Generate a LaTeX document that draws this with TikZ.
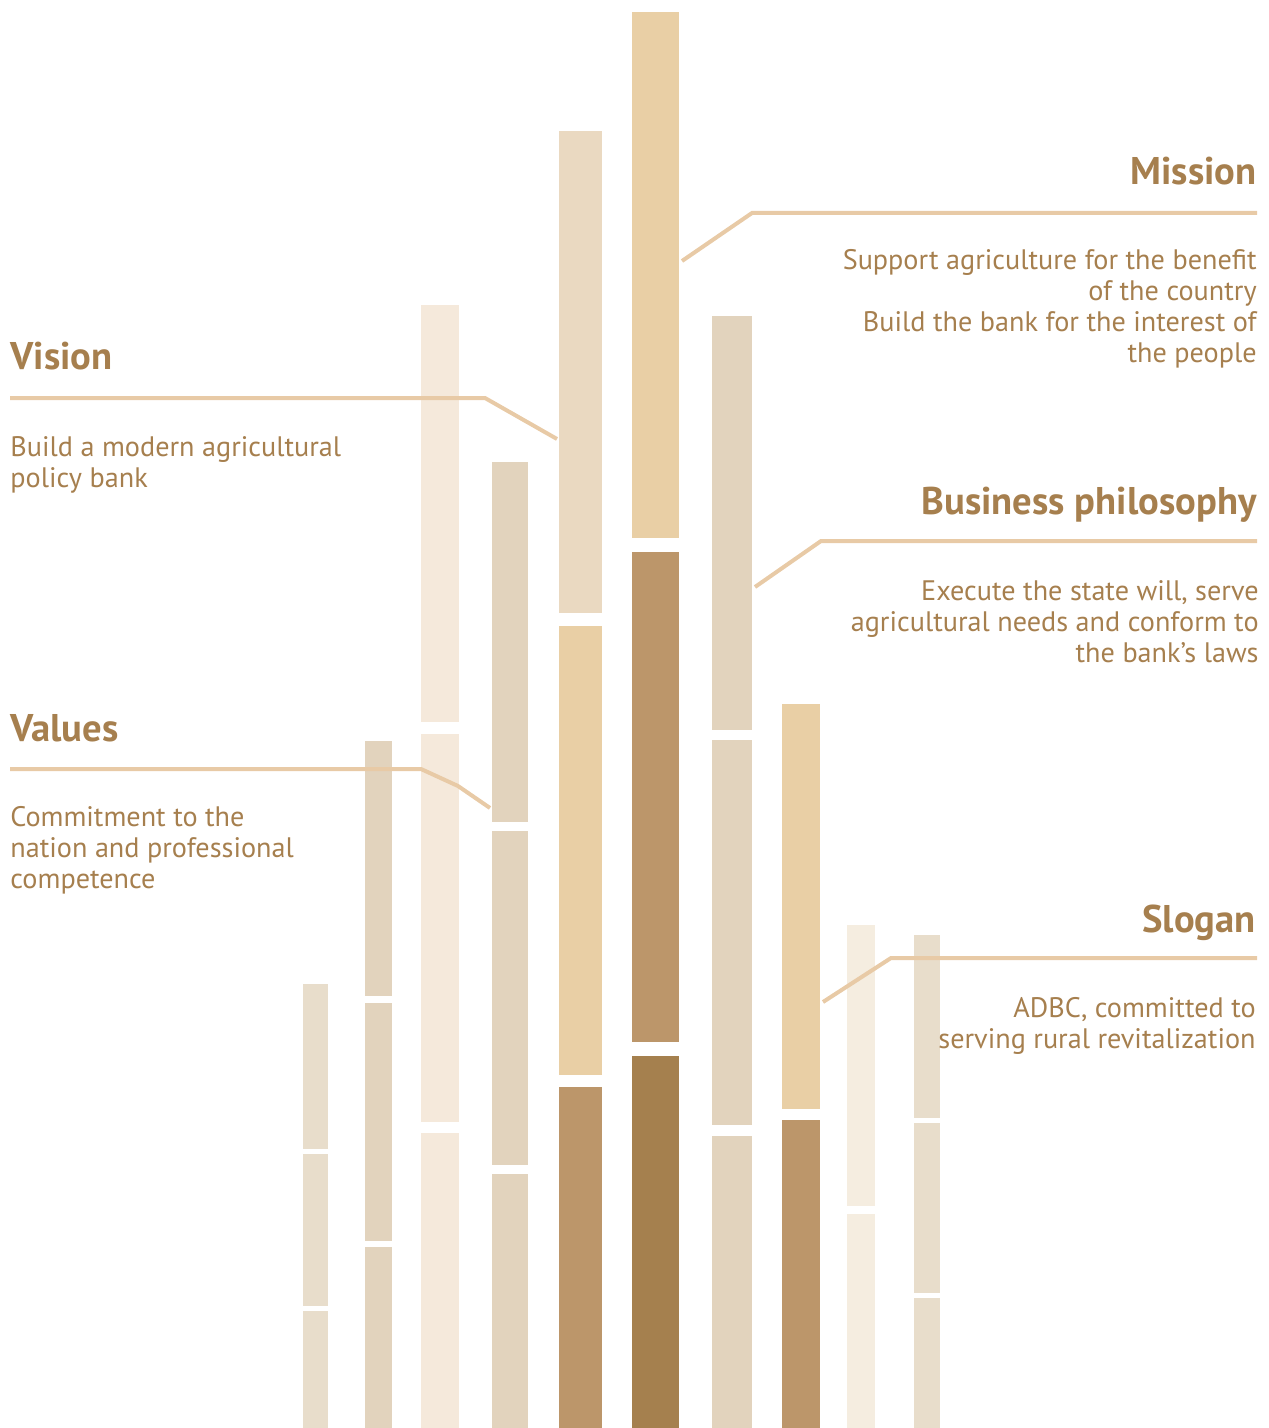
\documentclass[tikz,border=0pt]{standalone}
\usepackage{fontspec}
\setmainfont{PT Sans}
\definecolor{ink}{HTML}{A67F4E}
\definecolor{leader}{HTML}{E8CAA6}
\definecolor{pale}{HTML}{F5E9DB}
\definecolor{paler}{HTML}{F5EDE0}
\definecolor{sand}{HTML}{E2D3BD}
\definecolor{linen}{HTML}{E8DDCB}
\definecolor{wheat}{HTML}{EAD9C1}
\definecolor{straw}{HTML}{E9CFA5}
\definecolor{tan}{HTML}{BC966A}
\definecolor{umber}{HTML}{A5804E}
\begin{document}
\begin{tikzpicture}[x=0.5pt,y=-0.5pt,
  title/.style={font=\bfseries\fontsize{19.3}{21}\selectfont,text=ink,inner sep=0pt},
  body/.style={font=\fontsize{14.1}{15.5}\selectfont,text=ink,inner sep=0pt},
  leaderline/.style={draw=leader,line width=2pt}]
\useasboundingbox (0,0) rectangle (1268,1428);

\foreach \xa/\xb/\ya/\yb/\col in {
  303/328/984/1149/linen, 303/328/1154/1306/linen, 303/328/1311/1428/linen,
  365/392/741/996/sand, 365/392/1003/1241/sand, 365/392/1247/1428/sand,
  421/459/305/722/pale, 421/459/734/1122/pale, 421/459/1133/1428/pale,
  492/528/462/822/sand, 492/528/831/1165/sand, 492/528/1174/1428/sand,
  559/602/131/613/wheat, 559/602/626/1075/straw, 559/602/1087/1428/tan,
  632/679/12/538/straw, 632/679/552/1042/tan, 632/679/1056/1428/umber,
  712/752/316/730/sand, 712/752/740/1125/sand, 712/752/1136/1428/sand,
  782/820/704/1109/straw, 782/820/1120/1428/tan,
  847/875/925/1206/paler, 847/875/1214/1428/paler,
  914/940/935/1118/linen, 914/940/1123/1293/linen, 914/940/1298/1428/linen}
  \fill[\col] (\xa,\ya) rectangle (\xb,\yb);

\node[title,anchor=base east] (mission) at (1257,185) {Mission};
\node[body,anchor=base east,align=right] (missiontext) at (1257,363) {Support agriculture for the benefit\\of the country\\Build the bank for the interest of\\the people};
\node[title,anchor=base west] (vision) at (10,370) {Vision};
\node[body,anchor=base west,align=left] (visiontext) at (10,487) {Build a modern agricultural\\policy bank};
\node[title,anchor=base east] (business) at (1257,514) {Business philosophy};
\node[body,anchor=base east,align=right] (businesstext) at (1259,662) {Execute the state will, serve\\agricultural needs and conform to\\the bank’s laws};
\node[title,anchor=base west] (values) at (10,741) {Values};
\node[body,anchor=base west,align=left] (valuestext) at (10,888) {Commitment to the\\nation and professional\\competence};
\node[title,anchor=base east] (slogan) at (1256,932) {Slogan};
\node[body,anchor=base east,align=right] (slogantext) at (1256,1048) {ADBC, committed to\\serving rural revitalization};

\coordinate (misA) at (682,261);
\coordinate (misB) at (752,213);
\coordinate (misC) at (1257,213);
\coordinate (visA) at (10,398);
\coordinate (visB) at (485,398);
\coordinate (visC) at (557,439);
\coordinate (busA) at (755,587);
\coordinate (busB) at (821,541);
\coordinate (busC) at (1257,541);
\coordinate (valA) at (10,769);
\coordinate (valB) at (421,769);
\coordinate (valC) at (458,786);
\coordinate (valD) at (490,808);
\coordinate (sloA) at (823,1002);
\coordinate (sloB) at (891,958);
\coordinate (sloC) at (1257,958);

\draw[leaderline] (misA) -- (misB) -- (misC);
\draw[leaderline] (visA) -- (visB) -- (visC);
\draw[leaderline] (busA) -- (busB) -- (busC);
\draw[leaderline] (valA) -- (valB) -- (valC) -- (valD);
\draw[leaderline] (sloA) -- (sloB) -- (sloC);
\end{tikzpicture}
\end{document}
